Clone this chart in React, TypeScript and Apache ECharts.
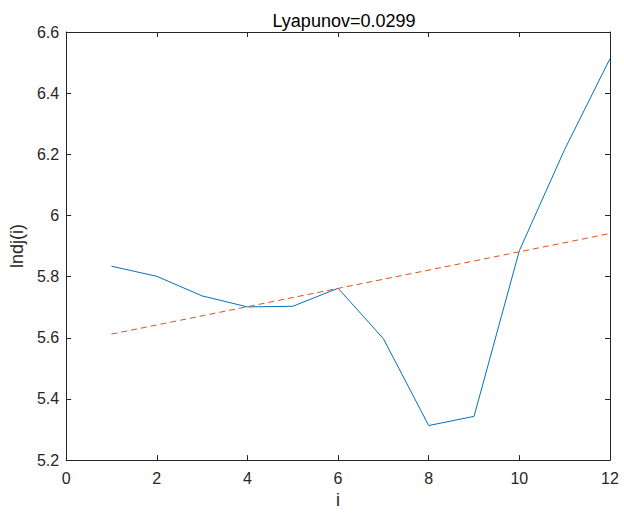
import React, { useEffect, useRef } from "react";
import * as echarts from "echarts";

const iValues = [1, 2, 3, 4, 5, 6, 7, 8, 9, 10, 11, 12];
const lndj = [5.834, 5.801, 5.737, 5.701, 5.703, 5.762, 5.597, 5.313, 5.343, 5.885, 6.216, 6.513];
const fitI = [1, 12];
const fitValues = [5.612, 5.941];
const xTicks = [0, 2, 4, 6, 8, 10, 12];
const yTicks = [5.2, 5.4, 5.6, 5.8, 6, 6.2, 6.4, 6.6];

const axisColor = "#262626";
const font = "Liberation Sans, Arial, Helvetica, sans-serif";

export default function App() {
  const ref = useRef<HTMLDivElement>(null);
  useEffect(() => {
    if (!ref.current) return;
    const chart = echarts.init(ref.current, undefined, { renderer: "svg" });
    const baseAxis = {
      axisLine: { show: true, onZero: false, lineStyle: { color: axisColor, width: 1 } },
      axisTick: { show: true, inside: true, length: 5, lineStyle: { color: axisColor } },
      splitLine: { show: false },
    };
    chart.setOption({
      animation: false,
      backgroundColor: "#ffffff",
      title: {
        text: "Lyapunov=0.0299",
        left: 339,
        top: 7,
        textAlign: "center",
        textStyle: { fontFamily: font, fontSize: 18, fontWeight: "normal", color: "#000" },
      },
      grid: { left: 65, right: 14, top: 32, bottom: 50, containLabel: false },
      xAxis: [
        {
          ...baseAxis,
          type: "value",
          min: 0,
          max: 12,
          interval: 2,
          position: "bottom",
          name: "i",
          nameLocation: "middle",
          nameGap: 30,
          nameTextStyle: { fontFamily: font, fontSize: 18, color: axisColor },
          axisLabel: {
            fontFamily: font,
            fontSize: 16,
            color: axisColor,
            margin: 10,
            formatter: (v: number) => (xTicks.includes(v) ? String(v) : ""),
          },
        },
        {
          ...baseAxis,
          type: "value",
          min: 0,
          max: 12,
          interval: 2,
          position: "top",
          axisLabel: { show: false },
        },
      ],
      yAxis: [
        {
          ...baseAxis,
          type: "value",
          min: 5.2,
          max: 6.6,
          interval: 0.2,
          position: "left",
          name: "lndj(i)",
          nameLocation: "middle",
          nameGap: 38,
          nameRotate: 90,
          nameTextStyle: { fontFamily: font, fontSize: 18, color: axisColor },
          axisLabel: {
            fontFamily: font,
            fontSize: 16,
            color: axisColor,
            margin: 7,
            formatter: (v: number) => {
              const t = yTicks.find((y) => Math.abs(y - v) < 1e-6);
              return t === undefined ? "" : String(t);
            },
          },
        },
        {
          ...baseAxis,
          type: "value",
          min: 5.2,
          max: 6.6,
          interval: 0.2,
          position: "right",
          axisLabel: { show: false },
        },
      ],
      series: [
        {
          type: "line",
          data: iValues.map((x, k) => [x, lndj[k]]),
          showSymbol: false,
          lineStyle: { color: "#0072BD", width: 1 },
          itemStyle: { color: "#0072BD" },
        },
        {
          type: "line",
          data: fitI.map((x, k) => [x, fitValues[k]]),
          showSymbol: false,
          lineStyle: { color: "#D95319", width: 1, type: [6, 4] },
          itemStyle: { color: "#D95319" },
        },
      ],
    });
    return () => chart.dispose();
  }, []);
  return (
    <div
      ref={ref}
      style={{ position: "fixed", left: 0, top: 0, width: 624, height: 514, background: "#fff" }}
    />
  );
}
